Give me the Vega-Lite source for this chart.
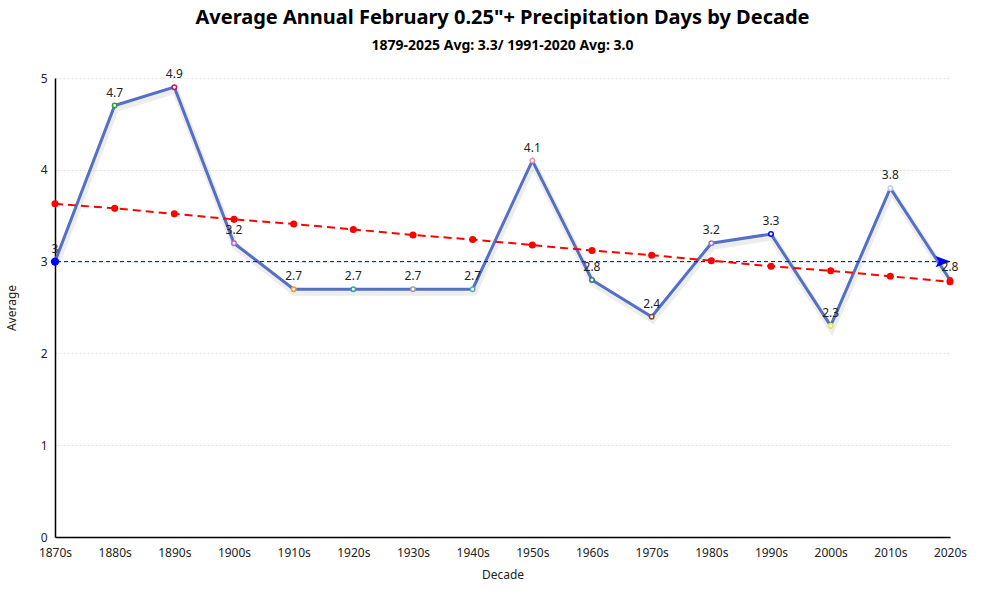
{
  "$schema": "https://vega.github.io/schema/vega-lite/v6.json",
  "width": 895,
  "height": 459,
  "autosize": {"type": "none"},
  "padding": {"left": 55, "top": 78, "right": 50, "bottom": 63},
  "background": "white",
  "title": {
    "text": "Average Annual February 0.25\"+ Precipitation Days by Decade",
    "subtitle": "1879-2025 Avg: 3.3/ 1991-2020 Avg: 3.0",
    "anchor": "middle",
    "frame": "group",
    "font": "Noto Sans",
    "fontSize": 20,
    "fontWeight": "bold",
    "color": "#000",
    "subtitleFont": "Noto Sans",
    "subtitleFontSize": 14,
    "subtitleFontWeight": "bold",
    "subtitleColor": "#000",
    "subtitlePadding": 11,
    "offset": 15
  },
  "config": {
    "view": {"stroke": null},
    "font": "Noto Sans",
    "axis": {
      "labelFont": "Noto Sans",
      "labelFontSize": 12,
      "labelColor": "#222",
      "titleFont": "Noto Sans",
      "titleFontSize": 12,
      "titleFontWeight": "normal",
      "titleColor": "#222",
      "domainColor": "#000",
      "domainWidth": 1.5,
      "ticks": false
    }
  },
  "data": {
    "values": [
      {"decade": "1870s", "avg": 3.0, "trend": 3.63},
      {"decade": "1880s", "avg": 4.7, "trend": 3.58},
      {"decade": "1890s", "avg": 4.9, "trend": 3.52},
      {"decade": "1900s", "avg": 3.2, "trend": 3.46},
      {"decade": "1910s", "avg": 2.7, "trend": 3.41},
      {"decade": "1920s", "avg": 2.7, "trend": 3.35},
      {"decade": "1930s", "avg": 2.7, "trend": 3.29},
      {"decade": "1940s", "avg": 2.7, "trend": 3.24},
      {"decade": "1950s", "avg": 4.1, "trend": 3.18},
      {"decade": "1960s", "avg": 2.8, "trend": 3.12},
      {"decade": "1970s", "avg": 2.4, "trend": 3.07},
      {"decade": "1980s", "avg": 3.2, "trend": 3.01},
      {"decade": "1990s", "avg": 3.3, "trend": 2.95},
      {"decade": "2000s", "avg": 2.3, "trend": 2.90},
      {"decade": "2010s", "avg": 3.8, "trend": 2.84},
      {"decade": "2020s", "avg": 2.8, "trend": 2.78}
    ]
  },
  "encoding": {
    "x": {
      "field": "decade",
      "type": "ordinal",
      "scale": {"type": "point", "padding": 0},
      "axis": {"title": "Decade", "labelAngle": 0, "labelPadding": 10, "titlePadding": 11, "grid": false}
    }
  },
  "layer": [
    {
      "mark": {"type": "line", "stroke": "#000", "opacity": 0.07, "strokeWidth": 7, "xOffset": 1, "yOffset": 3},
      "encoding": {
        "y": {"field": "avg", "type": "quantitative", "scale": {"domain": [0, 5], "nice": false},
          "axis": {"title": "Average", "values": [0, 1, 2, 3, 4, 5], "format": "d", "grid": true, "gridColor": "#e3e3e3", "gridDash": [2, 2], "labelPadding": 8, "titlePadding": 22}}
      }
    },
    {
      "mark": {"type": "line", "stroke": "#5470c6", "strokeWidth": 3},
      "encoding": {"y": {"field": "avg", "type": "quantitative"}}
    },
    {
      "mark": {"type": "point", "filled": false, "fill": "white", "fillOpacity": 1, "strokeWidth": 1.5, "size": 20, "opacity": 1},
      "encoding": {
        "y": {"field": "avg", "type": "quantitative"},
        "color": {
          "field": "decade", "type": "nominal", "legend": null,
          "scale": {
            "domain": ["1870s","1880s","1890s","1900s","1910s","1920s","1930s","1940s","1950s","1960s","1970s","1980s","1990s","2000s","2010s","2020s"],
            "range": ["#0000ff","#2ca02c","#c2185b","#ba68c8","#ff9800","#26a69a","#9e9e9e","#4db6ac","#f48fb1","#2e7d6e","#8d4b2a","#9575cd","#0000ff","#e6e64c","#c5cae9","#ff0000"]
          }
        }
      }
    },
    {
      "transform": [{"filter": "datum.decade === '1870s'"}],
      "mark": {"type": "rule", "color": "#0000ff", "strokeWidth": 1, "strokeDash": [4, 3]},
      "encoding": {"y": {"datum": 3}, "x": null}
    },
    {
      "mark": {"type": "line", "stroke": "#ff0000", "strokeWidth": 2, "strokeDash": [8, 5]},
      "encoding": {"y": {"field": "trend", "type": "quantitative"}}
    },
    {
      "mark": {"type": "circle", "fill": "#ff0000", "size": 50, "opacity": 1},
      "encoding": {"y": {"field": "trend", "type": "quantitative"}}
    },
    {
      "transform": [{"filter": "datum.decade === '1870s'"}],
      "mark": {"type": "circle", "fill": "#0000ff", "size": 70, "opacity": 1},
      "encoding": {"y": {"datum": 3}}
    },
    {
      "transform": [{"filter": "datum.decade === '2020s'"}],
      "mark": {"type": "point", "shape": "M-1,-0.75L1,0L-1,0.75L-0.55,0Z", "filled": true, "fill": "#0000ff", "size": 225, "opacity": 1, "xOffset": -7},
      "encoding": {"y": {"datum": 3}}
    },
    {
      "mark": {"type": "text", "baseline": "bottom", "dy": -6, "fontSize": 12, "fill": "#222", "font": "Noto Sans"},
      "encoding": {
        "y": {"field": "avg", "type": "quantitative"},
        "text": {"field": "avg", "type": "quantitative"}
      }
    }
  ]
}
